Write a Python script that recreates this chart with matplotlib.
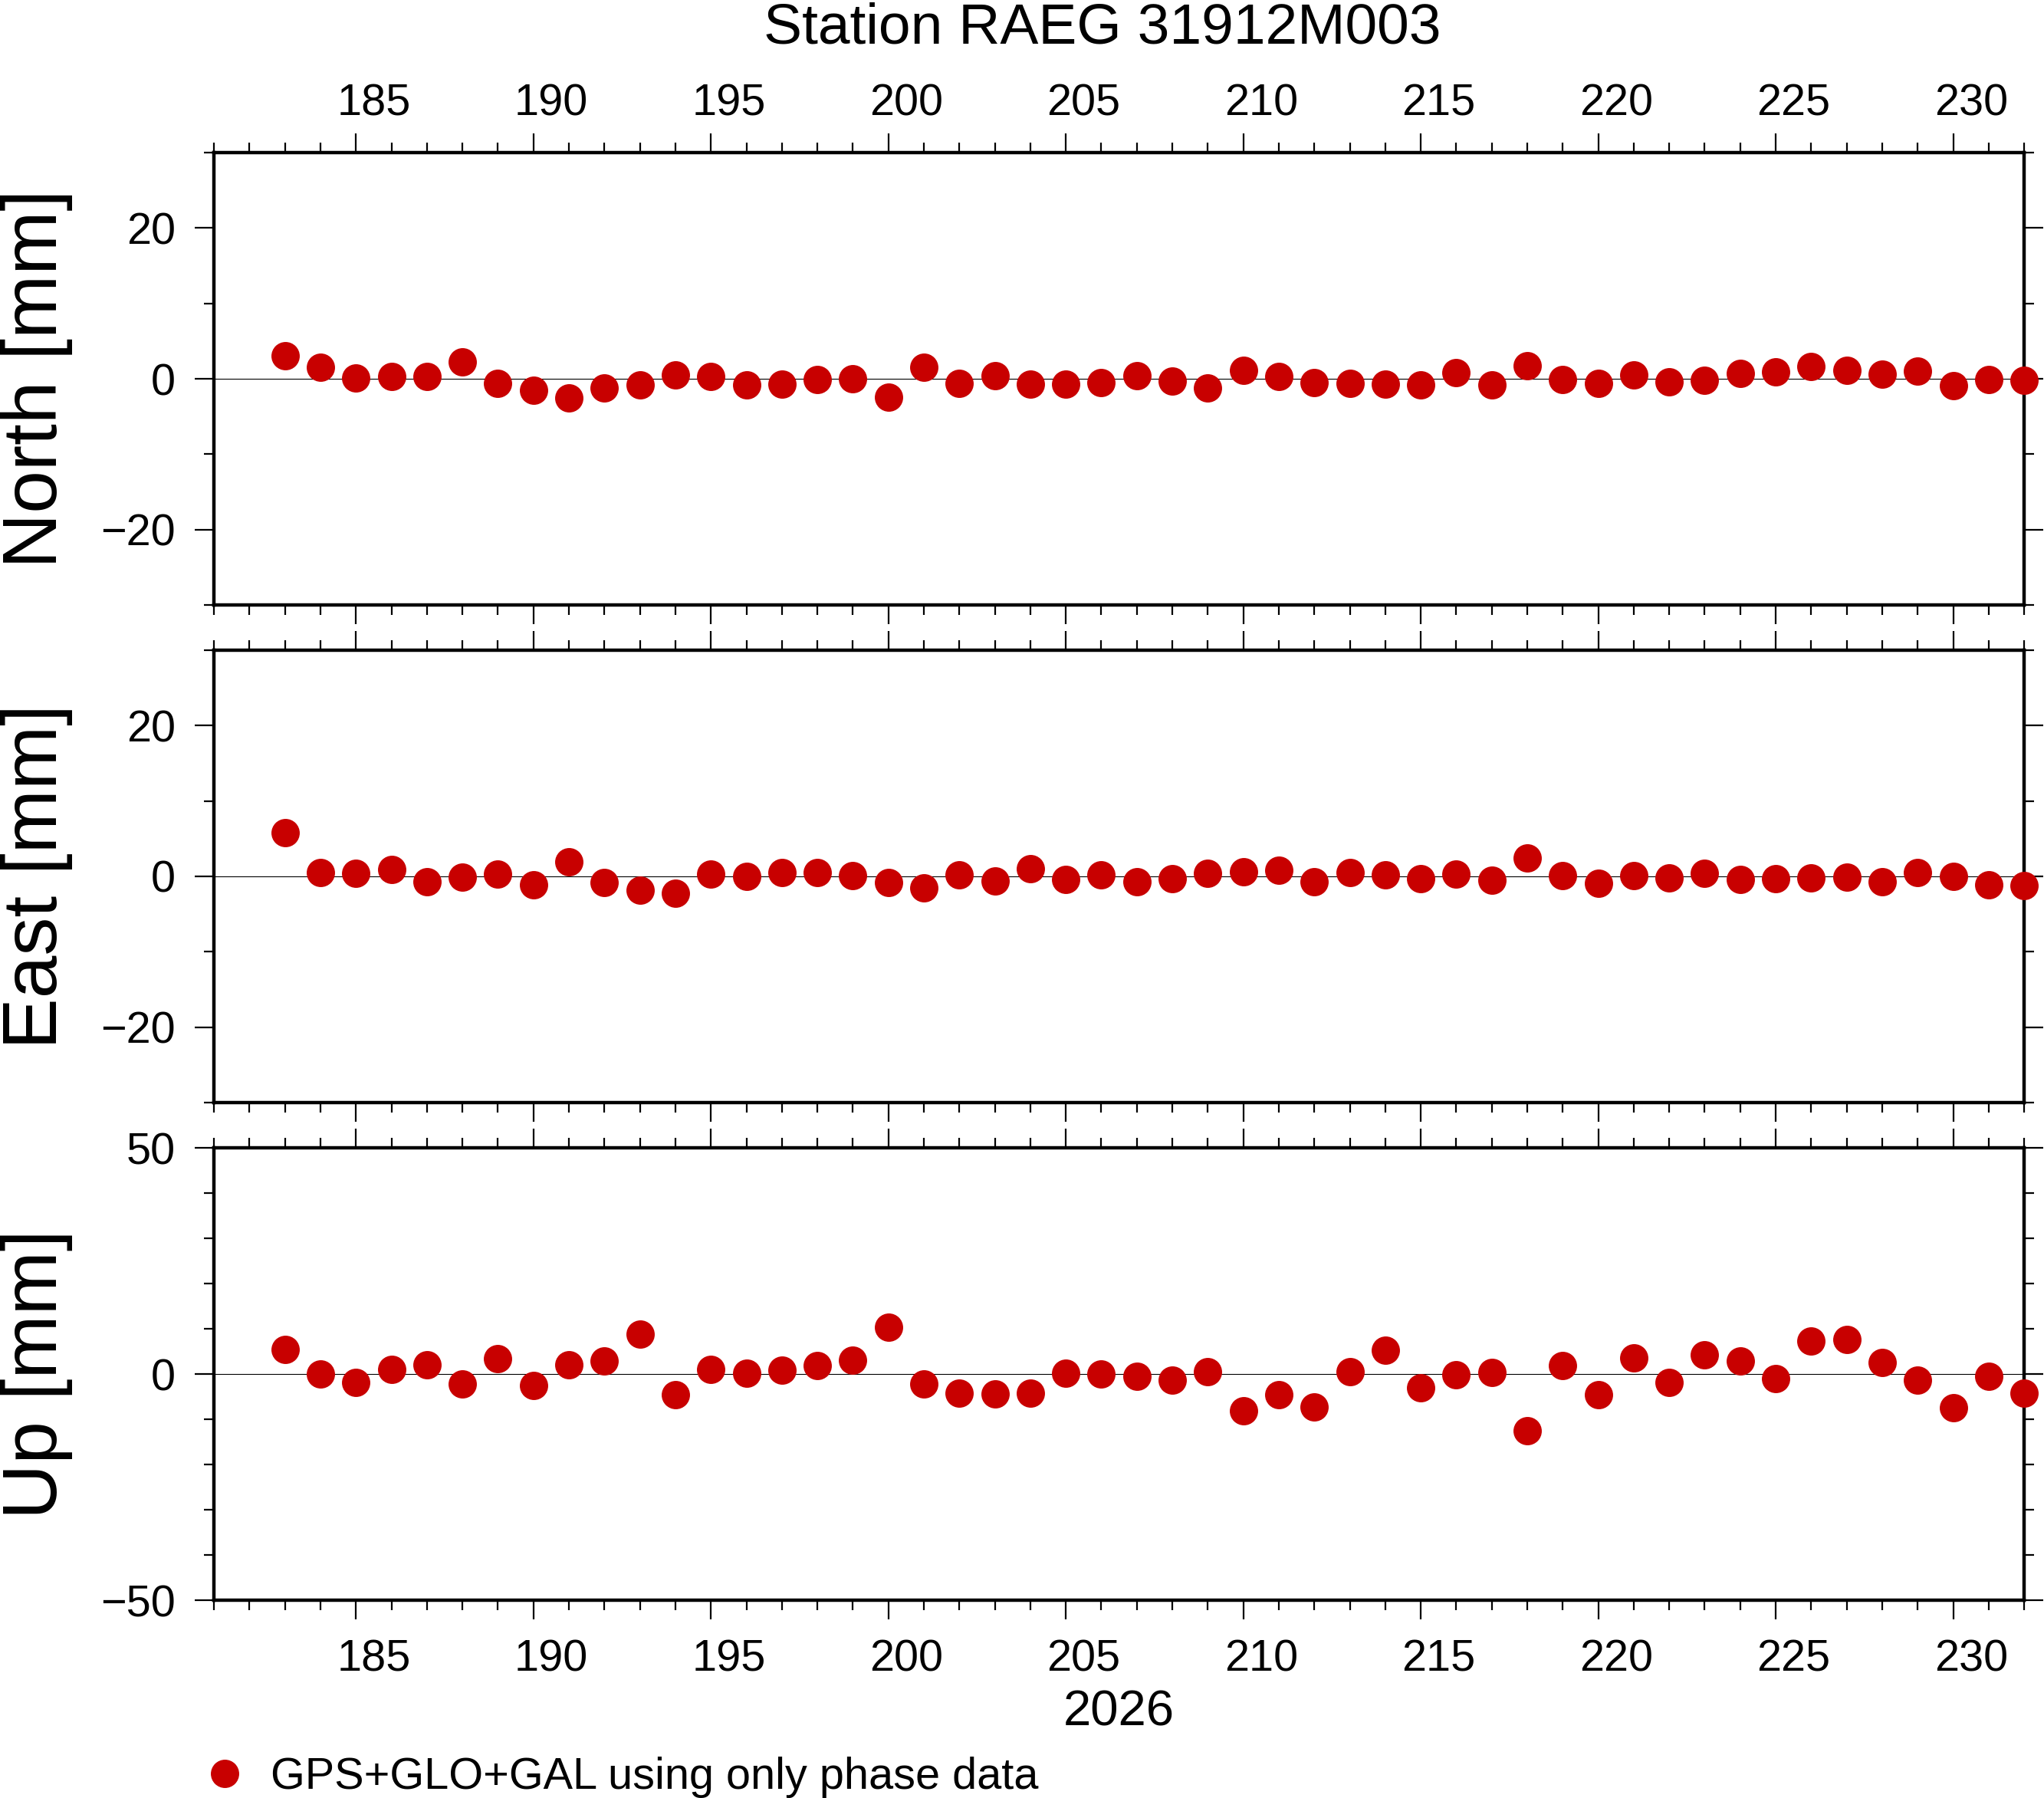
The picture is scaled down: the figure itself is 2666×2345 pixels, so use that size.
import numpy as np
import matplotlib
matplotlib.use('Agg')
import matplotlib.pyplot as plt
from matplotlib.ticker import MultipleLocator

plt.rcParams['font.family'] = ['Liberation Sans', 'DejaVu Sans']

# day of year 2026
days = np.arange(183, 233)
north = [3.1, 1.55, 0.14, 0.27, 0.27, 2.2, -0.64, -1.55, -2.57, -1.25, -0.84, 0.47,
         0.27, -0.84, -0.74, -0.14, -0.03, -2.47, 1.49, -0.64, 0.37, -0.71, -0.74, -0.54,
         0.37, -0.34, -1.25, 1.08, 0.27, -0.54, -0.64, -0.74, -0.84, 0.78, -0.84, 1.69,
         -0.14, -0.64, 0.47, -0.44, -0.24, 0.68, 0.88, 1.59, 1.08, 0.57, 0.98, -0.95,
         -0.14, -0.24]
east = [5.84, 0.47, 0.37, 0.91, -0.74, -0.14, 0.27, -1.15, 1.89, -0.84, -1.86, -2.26,
        0.27, -0.03, 0.47, 0.47, 0.07, -0.84, -1.55, 0.17, -0.64, 0.98, -0.44, 0.17,
        -0.74, -0.34, 0.37, 0.57, 0.78, -0.74, 0.47, 0.17, -0.34, 0.27, -0.54, 2.4,
        0.07, -0.95, 0.07, -0.24, 0.37, -0.44, -0.34, -0.24, -0.14, -0.74, 0.47, -0.03,
        -1.15, -1.25]
up = [5.46, 0.0, -1.86, 1.07, 2.08, -2.2, 3.38, -2.54, 2.08, 2.93, 8.85, -4.56,
      1.07, 0.17, 0.85, 1.92, 3.1, 10.37, -2.2, -4.23, -4.34, -4.23, 0.23, 0.06,
      -0.5, -1.3, 0.56, -8.06, -4.5, -7.2, 0.56, 5.3, -3.04, -0.17, 0.39, -12.45,
      1.92, -4.5, 3.6, -1.8, 4.28, 2.87, -0.96, 7.32, 7.66, 2.54, -1.3, -7.38,
      -0.45, -4.17]

label_days = [185, 190, 195, 200, 205, 210, 215, 220, 225, 230]
panels = [('North [mm]', north, 30, 20), ('East [mm]', east, 30, 20), ('Up [mm]', up, 50, 50)]
rojo = '#c80000'
fs_tick = 41.5

fig = plt.figure(figsize=(26.66, 23.45), dpi=100)
left, width = 0.1047, 0.8856
bottoms = [0.6635, 0.3868, 0.1100]
h = 0.2516

axes = []
for i, (nombre, vals, lim, paso) in enumerate(panels):
    ax = fig.add_axes([left, bottoms[i], width, h])
    ax.set_xlim(181, 232)
    ax.set_ylim(-lim, lim)
    ax.axhline(0, color='black', lw=0.8, zorder=1)
    linea, = ax.plot(days, vals, 'o', color=rojo, markersize=26.6, markeredgewidth=0,
                     clip_on=False, zorder=5, label='GPS+GLO+GAL using only phase data')
    ax.xaxis.set_major_locator(MultipleLocator(5))
    ax.xaxis.set_minor_locator(MultipleLocator(1))
    ax.yaxis.set_major_locator(MultipleLocator(paso))
    ax.yaxis.set_minor_locator(MultipleLocator(10))
    ax.tick_params(which='both', direction='out', top=True, right=True, width=1.6,
                   labelbottom=False, labeltop=False, labelsize=fs_tick, pad=18)
    ax.tick_params(which='major', length=18)
    ax.tick_params(which='minor', length=9.5)
    for s in ax.spines.values():
        s.set_linewidth(3.2)
    ax.set_ylabel(nombre, fontsize=72)
    ax.yaxis.set_label_coords(-0.078, 0.5)
    axes.append(ax)

# day labels sit in the middle of each day interval
sec_top = axes[0].secondary_xaxis('top')
sec_bot = axes[2].secondary_xaxis('bottom')
for sec in (sec_top, sec_bot):
    sec.set_xticks([d + 0.5 for d in label_days], [str(d) for d in label_days])
    sec.tick_params(length=0, labelsize=fs_tick)
    for s in sec.spines.values():
        s.set_visible(False)
sec_top.tick_params(pad=26)
sec_bot.tick_params(pad=36)
sec_bot.set_xlabel('2026', fontsize=47, labelpad=9)

fig.text(0.5394, 0.9757, 'Station RAEG 31912M003', fontsize=54, ha='center', va='baseline')

fig.legend(handles=[linea], loc='center left', bbox_to_anchor=(0.1009, 0.0115),
           frameon=False, fontsize=fs_tick, handlelength=0.85, handletextpad=0.6,
           borderpad=0, borderaxespad=0, numpoints=1)

fig.savefig('out.png', dpi=100)
